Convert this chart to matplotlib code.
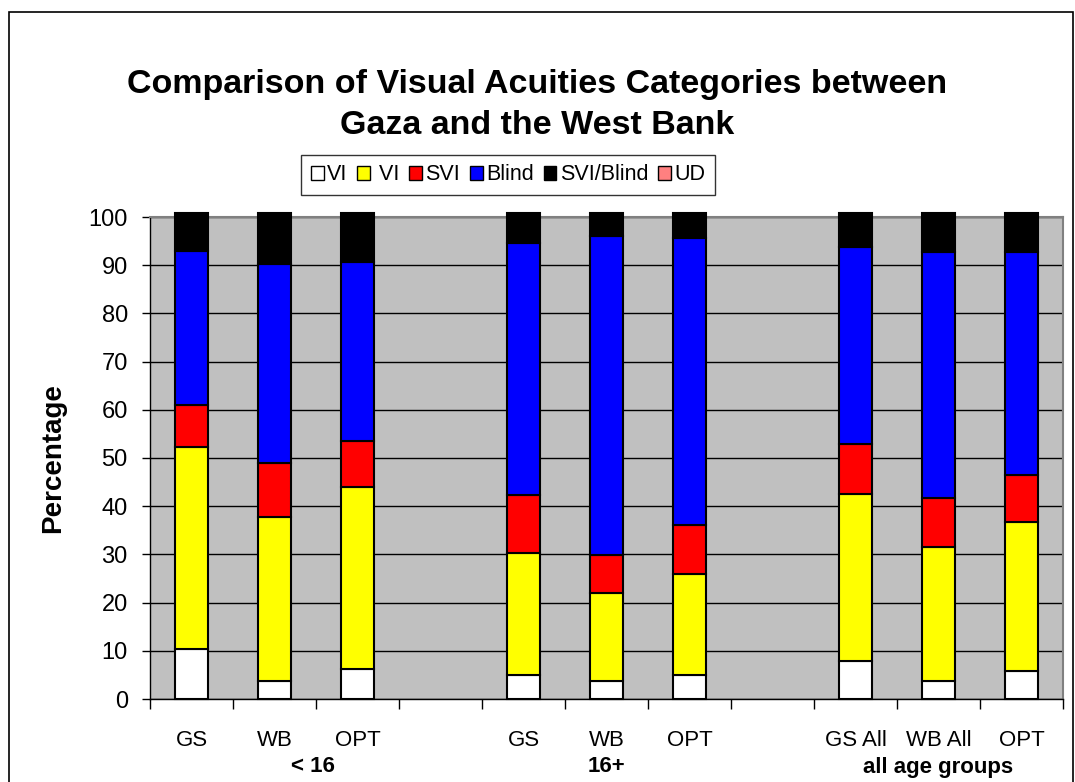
import matplotlib
matplotlib.use("Agg")
import matplotlib.pyplot as plt
from matplotlib.patches import Rectangle, Patch
from matplotlib.transforms import blended_transform_factory

plt.rcParams["font.family"] = ["Liberation Sans", "DejaVu Sans"]

# data (cumulative tops converted to segment heights)
categories = ["GS", "WB", "OPT", "", "GS", "WB", "OPT", "", "GS All", "WB All", "OPT"]
groups = ["< 16", "16+", "all age groups"]
group_pos = [1.46, 5, 9]

vi_white = [10.3, 3.7, 6.2, 0, 5.0, 3.7, 5.0, 0, 7.8, 3.7, 5.8]
vi_yellow = [41.9, 34.0, 37.7, 0, 25.2, 18.2, 21.0, 0, 34.8, 27.8, 31.0]
svi = [8.7, 11.2, 9.7, 0, 12.1, 8.0, 10.1, 0, 10.4, 10.3, 9.6]
blind = [32.1, 41.3, 37.0, 0, 52.4, 66.1, 59.5, 0, 40.8, 50.9, 46.3]
svi_blind = [7.8, 10.6, 10.2, 0, 6.1, 4.8, 5.2, 0, 7.0, 8.1, 8.1]
ud = [0, 0, 0, 0, 0, 0, 0, 0, 0, 0, 0]

series = [
    ("VI", vi_white, "#FFFFFF"),
    (" VI", vi_yellow, "#FFFF00"),
    ("SVI", svi, "#FF0000"),
    ("Blind", blind, "#0000FF"),
    ("SVI/Blind", svi_blind, "#000000"),
    ("UD", ud, "#FF8080"),
]

fig = plt.figure(figsize=(10.75, 7.82), dpi=100)
ax = fig.add_axes([150 / 1075, 1 - 699 / 782, 913 / 1075, 482 / 782])
ax.set_facecolor("#C0C0C0")

x = list(range(len(categories)))
bottom = [0.0] * len(x)
for name, vals, col in series:
    for i, v in enumerate(vals):
        if v > 0:
            ax.bar(i, v, bottom=bottom[i], width=0.386, color=col,
                   edgecolor="black", linewidth=1.5, clip_on=False, zorder=3)
    bottom = [b + v for b, v in zip(bottom, vals)]

ax.set_xlim(-0.5, 10.5)
ax.set_ylim(0, 100)
ax.set_yticks(range(0, 101, 10))
ax.yaxis.grid(True, color="black", linewidth=1)
ax.set_axisbelow(True)
ax.tick_params(axis="y", labelsize=17, length=6, width=1, pad=10, direction="out")

ax.set_xticks(x)
ax.set_xticklabels(categories, fontsize=16)
ax.tick_params(axis="x", length=0, pad=22)
ax.set_xticks([i - 0.5 for i in range(12)], minor=True)
ax.tick_params(axis="x", which="minor", length=7, width=1)

for s in ["top", "right"]:
    ax.spines[s].set_color("#808080")
    ax.spines[s].set_linewidth(1.5)
ax.spines["left"].set_linewidth(1)
ax.spines["bottom"].set_linewidth(1)

ax.set_ylabel("Percentage", fontsize=20, fontweight="bold", labelpad=16)

# group labels: x in data units, y in figure units
trans = blended_transform_factory(ax.transData, fig.transFigure)
for g, p in zip(groups, group_pos):
    ax.text(p, 1 - 767 / 782, g, transform=trans, ha="center", va="center",
            fontsize=16, fontweight="bold", clip_on=False)

fig.text(0.5, 1 - 85 / 782, "Comparison of Visual Acuities Categories between",
         ha="center", va="center", fontsize=24.5, fontweight="bold")
fig.text(0.5, 1 - 125 / 782, "Gaza and the West Bank",
         ha="center", va="center", fontsize=24.5, fontweight="bold")

handles = [Patch(facecolor=c, edgecolor="black", linewidth=1, label=n) for n, _, c in series]
leg = fig.legend(handles=handles, loc="center", bbox_to_anchor=(508 / 1075, 1 - 175 / 782),
                 ncol=6, fontsize=15.5, frameon=True, fancybox=False, handlelength=0.6,
                 handleheight=0.6, handletextpad=0.15, columnspacing=0.45, borderpad=0.45,
                 borderaxespad=0)
leg.get_frame().set_edgecolor("black")
leg.get_frame().set_linewidth(1)

fig.patches.append(Rectangle((9 / 1075, -0.01), 1064 / 1075, 1.01 - 12 / 782,
                             transform=fig.transFigure, fill=False,
                             edgecolor="black", linewidth=1.2))

fig.savefig("out.png", dpi=100)
